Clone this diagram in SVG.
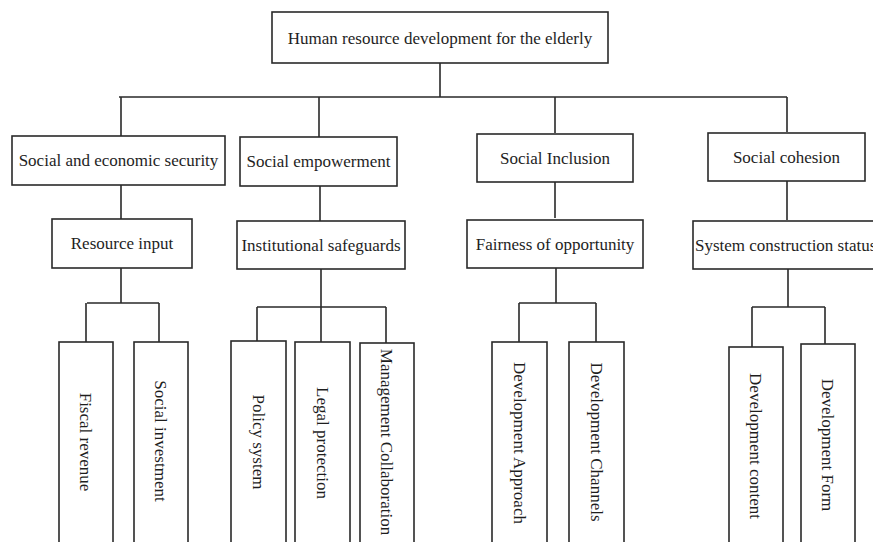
<svg xmlns="http://www.w3.org/2000/svg" width="873" height="542" viewBox="0 0 873 542">
<style>
.box{fill:#fff;stroke:#2a2a2a;stroke-width:1.6}
.ln{fill:none;stroke:#2a2a2a;stroke-width:1.6}
text{font-family:"Liberation Serif","Times New Roman",serif;font-size:17px;fill:#1e1e1e}
.c{text-anchor:middle}
</style>
<rect width="873" height="542" fill="#fff"/>
<g id="connectors">
<path class="ln" d="M440,63V97M119,97H787M121,97V136M319,97V137M555,97V133M787,97V132"/>
<path class="ln" d="M121,185V219M320,186V221M555,182V218M787,181V220"/>
<path class="ln" d="M121,268V303M87,303H159M86,303V342M159,303V342"/>
<path class="ln" d="M321,269V307M257,307H386M257,307V341M321,307V342M386,307V343"/>
<path class="ln" d="M556,268V303M519,303H596M519,303V342M596,303V342"/>
<path class="ln" d="M788,269V307M752,307H825M752,307V347M825,307V344"/>
</g>
<g id="root"><rect class="box" x="272" y="12" width="336" height="51"/><text class="c" x="440" y="44">Human resource development for the elderly</text></g>
<g id="n-security"><rect class="box" x="12" y="136" width="213" height="49"/><text class="c" x="118.5" y="166">Social and economic security</text></g>
<g id="n-empowerment"><rect class="box" x="240" y="137" width="157" height="49"/><text class="c" x="318.5" y="167">Social empowerment</text></g>
<g id="n-inclusion"><rect class="box" x="477" y="134" width="156" height="48"/><text class="c" x="555" y="164">Social Inclusion</text></g>
<g id="n-cohesion"><rect class="box" x="708" y="133" width="157" height="48"/><text class="c" x="786.5" y="163">Social cohesion</text></g>
<g id="n-resource"><rect class="box" x="52" y="219" width="140" height="49"/><text class="c" x="122" y="249">Resource input</text></g>
<g id="n-institutional"><rect class="box" x="237" y="221" width="168" height="48"/><text class="c" x="321" y="251">Institutional safeguards</text></g>
<g id="n-fairness"><rect class="box" x="467" y="220" width="176" height="48"/><text class="c" x="555" y="250">Fairness of opportunity</text></g>
<g id="n-system"><rect class="box" x="693" y="221" width="200" height="48"/><text x="695" y="251">System construction status</text></g>
<g id="n-fiscal"><rect class="box" x="59" y="342" width="54" height="220"/><text class="c" transform="translate(86,442) rotate(90)" y="6">Fiscal revenue</text></g>
<g id="n-social-inv"><rect class="box" x="134" y="342" width="54" height="220"/><text class="c" transform="translate(161,441) rotate(90)" y="6">Social investment</text></g>
<g id="n-policy"><rect class="box" x="231" y="341" width="55" height="220"/><text class="c" transform="translate(258.5,442) rotate(90)" y="6">Policy system</text></g>
<g id="n-legal"><rect class="box" x="295" y="342" width="55" height="220"/><text class="c" transform="translate(322.5,443) rotate(90)" y="6">Legal protection</text></g>
<g id="n-management"><rect class="box" x="360" y="343" width="54" height="220"/><text class="c" transform="translate(387,442) rotate(90)" y="6">Management Collaboration</text></g>
<g id="n-approach"><rect class="box" x="492" y="342" width="55" height="220"/><text class="c" transform="translate(519.5,443) rotate(90)" y="6">Development Approach</text></g>
<g id="n-channels"><rect class="box" x="569" y="342" width="55" height="220"/><text class="c" transform="translate(596.5,442) rotate(90)" y="6">Development Channels</text></g>
<g id="n-content"><rect class="box" x="729" y="347" width="54" height="220"/><text class="c" transform="translate(756,446) rotate(90)" y="6">Development content</text></g>
<g id="n-form"><rect class="box" x="801" y="344" width="54" height="220"/><text class="c" transform="translate(828,445) rotate(90)" y="6">Development Form</text></g>
</svg>
